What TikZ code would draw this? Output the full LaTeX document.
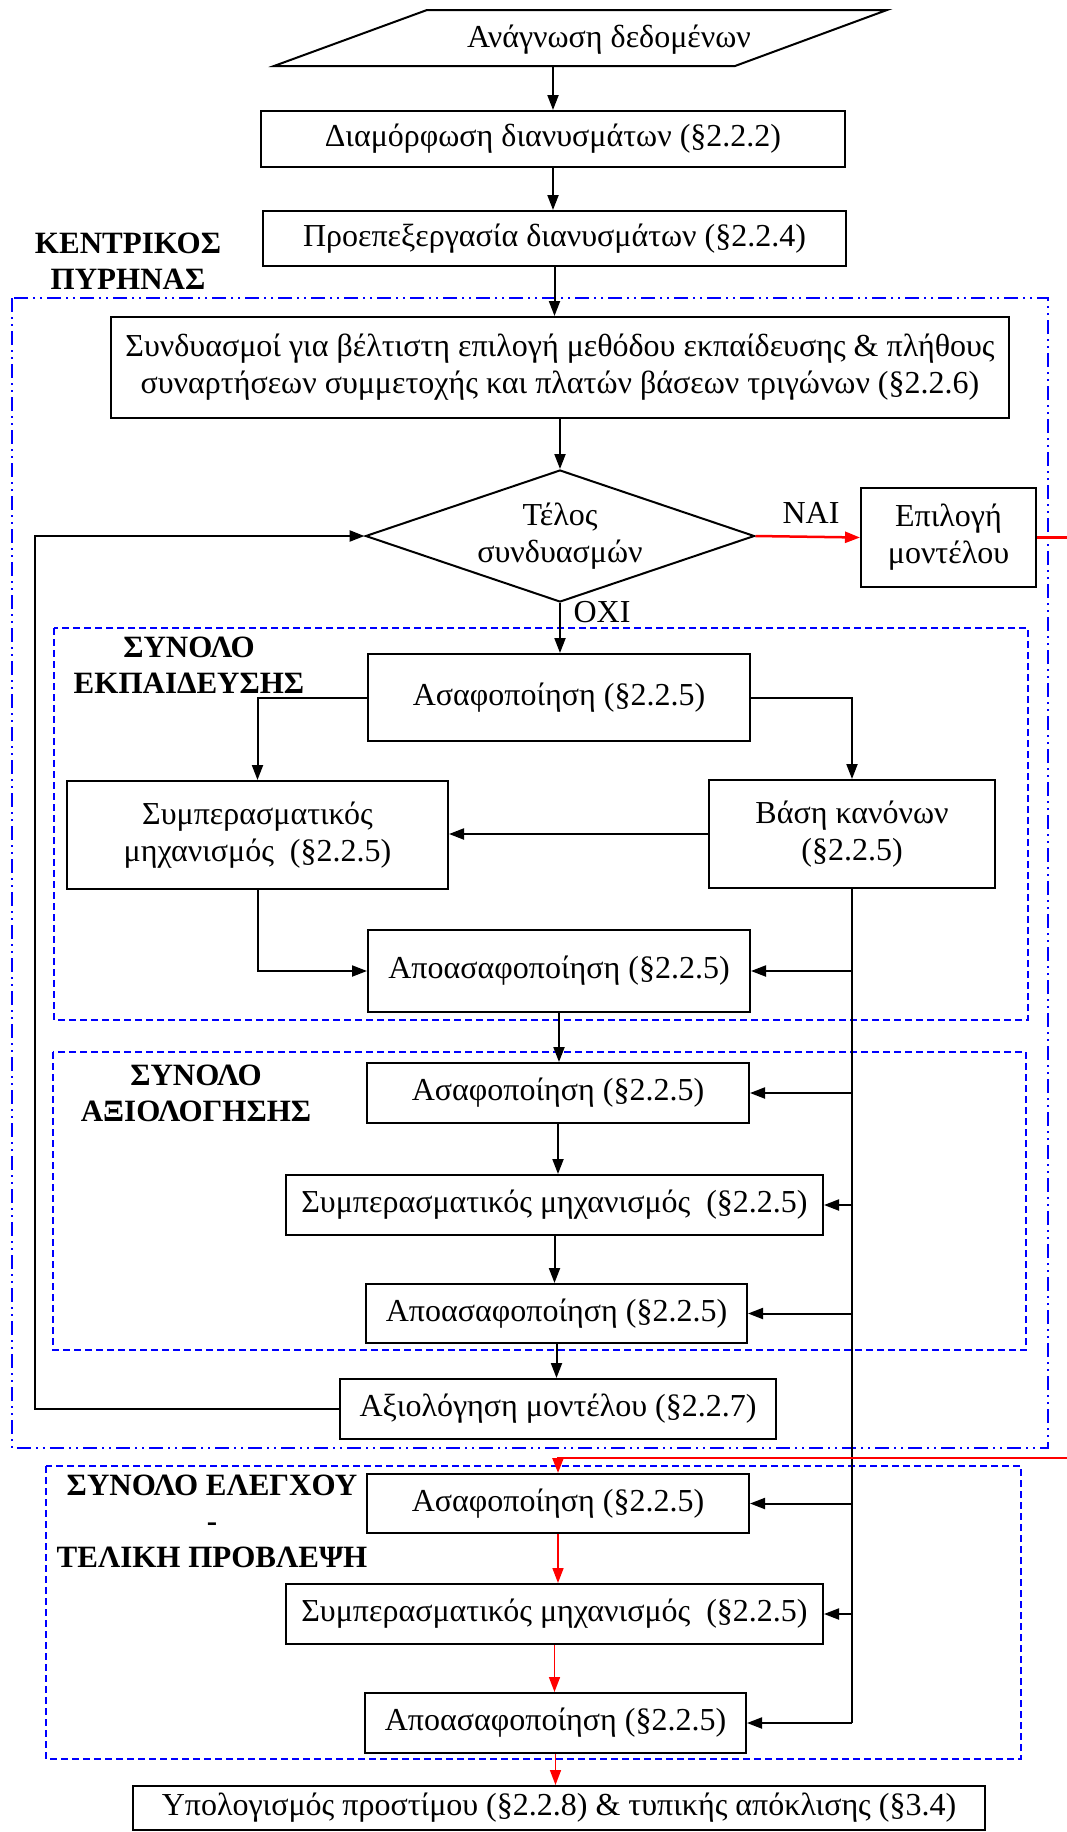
\documentclass[tikz,border=0pt]{standalone}
\usepackage{fontspec}
\setmainfont{Liberation Serif}
\usetikzlibrary{shapes.geometric,arrows.meta}
\begin{document}
\begin{tikzpicture}[x=1pt,y=-1pt,
  font=\fontsize{32}{37}\selectfont,
  box/.style={draw,line width=2pt,inner sep=0pt,align=center},
  con/.style={line width=2pt},
  arr/.style={con,-{Triangle[length=15pt,width=11pt]}},
  rarr/.style={arr,red},
  lbl/.style={font=\fontsize{31}{36}\selectfont\bfseries,align=center},
  grp/.style={draw=blue,line width=1.8pt,dash pattern=on 7pt off 4pt},
  core/.style={draw=blue,line width=2.3pt,dash pattern=on 14pt off 5pt on 2pt off 5pt on 2pt off 5pt}]
\useasboundingbox (0,0) rectangle (1067,1832);
\clip (0,0) rectangle (1067,1832);
\fill[white] (0,0) rectangle (1067,1832);

% group frames
\draw[core] (12,298) rectangle (1048,1448);
\draw[grp] (54,628) rectangle (1028,1020);
\draw[grp] (53,1052) rectangle (1026,1350);
\draw[grp] (46,1466) rectangle (1021,1759);

% group labels
\node[lbl] (lcore) at (128,261) {ΚΕΝΤΡΙΚΟΣ\\ΠΥΡΗΝΑΣ};
\node[lbl] (ltrain) at (189,665) {ΣΥΝΟΛΟ\\ΕΚΠΑΙΔΕΥΣΗΣ};
\node[lbl] (leval) at (196,1093) {ΣΥΝΟΛΟ\\ΑΞΙΟΛΟΓΗΣΗΣ};
\node[lbl] (ltest) at (212,1521) {ΣΥΝΟΛΟ ΕΛΕΓΧΟΥ\\-\\ΤΕΛΙΚΗ ΠΡΟΒΛΕΨΗ};

% input parallelogram
\draw[line width=2pt] (427,10) -- (887,10) -- (735,66) -- (274,66) -- cycle;
\node (read) at (609,40) {Ανάγνωση δεδομένων};
\coordinate (readb) at (581,66);

% nodes
\node[box,minimum width=584pt,minimum height=56pt] (d1) at (553,139) {Διαμόρφωση διανυσμάτων (§2.2.2)};
\node[box,minimum width=583pt,minimum height=55pt] (d2) at (554.5,238.5) {Προεπεξεργασία διανυσμάτων (§2.2.4)};
\node[box,minimum width=898pt,minimum height=101pt] (comb) at (560,367.5) {Συνδυασμοί για βέλτιστη επιλογή μεθόδου εκπαίδευσης \& πλήθους\\συναρτήσεων συμμετοχής και πλατών βάσεων τριγώνων (§2.2.6)};
\node[draw,diamond,line width=2pt,minimum width=389pt,minimum height=132pt,inner sep=0pt,aspect=2.95,align=center] (dec) at (560,536) {Τέλος\\συνδυασμών};
\node[box,minimum width=175pt,minimum height=99pt] (sel) at (948.5,537.5) {Επιλογή\\μοντέλου};

\node[box,minimum width=382pt,minimum height=87pt] (a1) at (559,697.5) {Ασαφοποίηση (§2.2.5)};
\node[box,minimum width=381pt,minimum height=108pt] (inf1) at (257.5,835) {Συμπερασματικός\\μηχανισμός\ \ (§2.2.5)};
\node[box,minimum width=286pt,minimum height=108pt] (rb) at (852,834) {Βάση κανόνων\\(§2.2.5)};
\node[box,minimum width=382pt,minimum height=82pt] (df1) at (559,971) {Αποασαφοποίηση (§2.2.5)};

\node[box,minimum width=382pt,minimum height=60pt] (a2) at (558,1093) {Ασαφοποίηση (§2.2.5)};
\node[box,minimum width=537pt,minimum height=60pt] (inf2) at (554.5,1205) {Συμπερασματικός μηχανισμός\ \ (§2.2.5)};
\node[box,minimum width=381pt,minimum height=59pt] (df2) at (556.5,1313.5) {Αποασαφοποίηση (§2.2.5)};
\node[box,minimum width=436pt,minimum height=60pt] (ev) at (558,1409) {Αξιολόγηση μοντέλου (§2.2.7)};

\node[box,minimum width=382pt,minimum height=59pt] (a3) at (558,1503.5) {Ασαφοποίηση (§2.2.5)};
\node[box,minimum width=537pt,minimum height=60pt] (inf3) at (554.5,1614) {Συμπερασματικός μηχανισμός\ \ (§2.2.5)};
\node[box,minimum width=381pt,minimum height=60pt] (df3) at (555.5,1723) {Αποασαφοποίηση (§2.2.5)};
\node[box,minimum width=852pt,minimum height=44pt] (fin) at (559,1808) {Υπολογισμός προστίμου (§2.2.8) \& τυπικής απόκλισης (§3.4)};

% main flow
\draw[arr] (readb -| d1.north) -- (d1.north);
\draw[arr] (d1.south) -- (d1.south |- d2.north);
\draw[arr] (d2.south) -- (d2.south |- comb.north);
\draw[arr] (comb.south) -- (dec.north);
\draw[arr,red,line width=2.5pt] (dec.east) -- (sel.west);
\node (yes) at (811,513) {ΝΑΙ};
\draw[arr] (dec.south) -- (dec.south |- a1.north);
\node (no) at (602,612) {ΟΧΙ};
\draw[arr] (a1.west) -| (inf1.north);
\draw[arr] (a1.east) -| (rb.north);
\draw[arr] (rb.west) -- (rb.west -| inf1.east);
\draw[arr] (inf1.south) |- (df1.west);
\draw[arr] (df1.south) -- (df1.south |- a2.north);
\draw[arr] (a2.south) -- (a2.south |- inf2.north);
\draw[arr] (inf2.south) -- (inf2.south |- df2.north);
\draw[arr] (df2.south) -- (df2.south |- ev.north);

% loop back
\coordinate (lx) at (35,0);
\draw[arr,line width=2.5pt] (ev.west) -- (ev.west -| lx) |- (dec.west);

% rule base bus
\draw[con] (rb.south) -- (rb.south |- df3.east);
\foreach \n in {df1,a2,inf2,df2,a3,inf3,df3}
  \draw[arr] (rb.south |- \n.east) -- (\n.east);

% red final path
\coordinate (offr) at (1095,0);
\coordinate (redy) at (0,1458);
\draw[rarr,line width=2.5pt] (sel.east) -- (sel.east -| offr) |- (a3.north |- redy) -- (a3.north);
\draw[rarr,line width=1.6pt] (a3.south) -- (a3.south |- inf3.north);
\draw[rarr,line width=1.6pt] (inf3.south) -- (inf3.south |- df3.north);
\draw[rarr,line width=1.6pt] (df3.south) -- (df3.south |- fin.north);
\end{tikzpicture}
\end{document}
